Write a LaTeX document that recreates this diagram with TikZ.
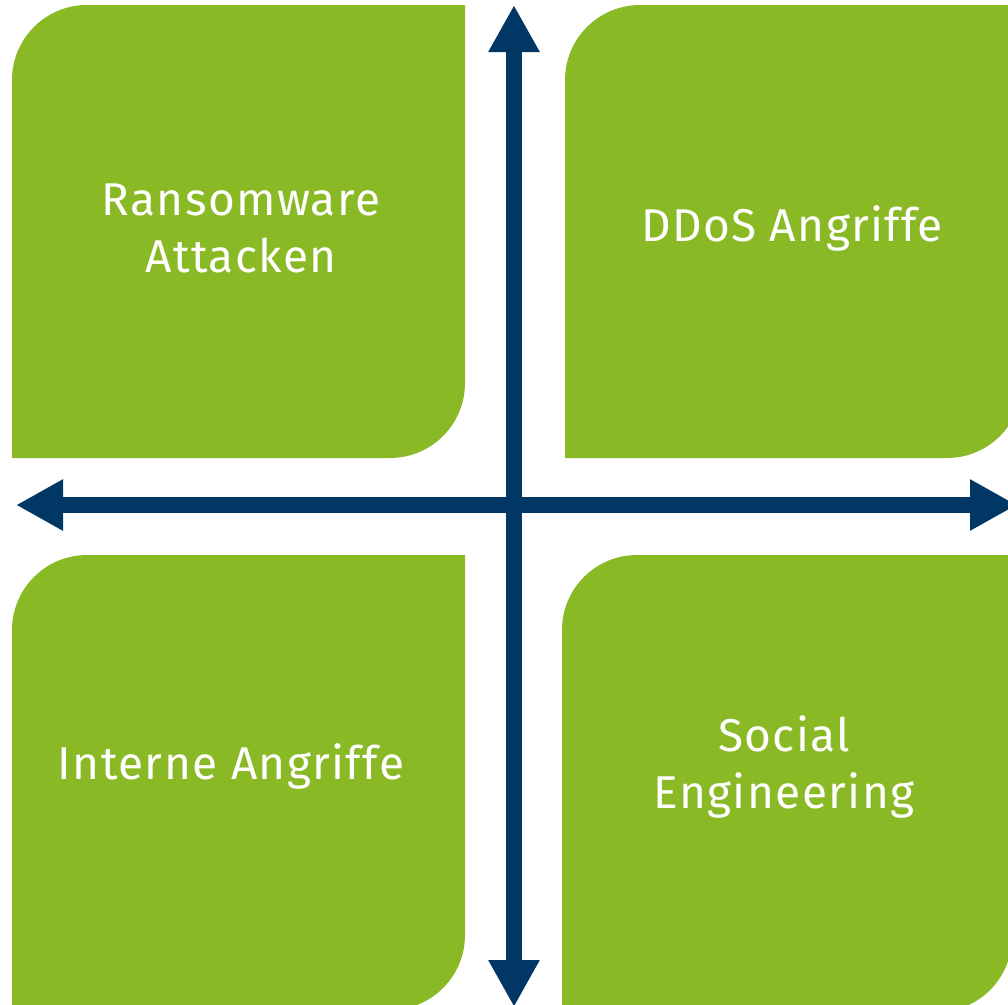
\documentclass[tikz,border=0pt]{standalone}
\usepackage{fontspec}
\setmainfont{Fira Sans}[LetterSpace=3]
\usetikzlibrary{arrows.meta}
\definecolor{leafgreen}{RGB}{138,185,38}
\definecolor{navyblue}{RGB}{0,55,100}
\tikzstyle{field} = [fill=leafgreen]
\tikzstyle{boxtext} = [text=white, align=center, inner sep=0pt,
	font=\fontsize{46}{57}\selectfont]
\tikzstyle{axisline} = [draw=navyblue, line width=16pt,
	{Triangle[length=47pt, width=48pt]}-{Triangle[length=47pt, width=48pt]}]

\begin{document}
\begin{tikzpicture}[x=1pt, y=-1pt]
	\useasboundingbox (0,0) rectangle (1008,1004);

	% set up fields (rounded top left and bottom right)
	\fill[field] (12,458) -- (12,80) arc[start angle=180, end angle=270, radius=75] -- (465,5)
		-- (465,383) arc[start angle=0, end angle=90, radius=75] -- cycle;
	\fill[field] (565,458) -- (565,80) arc[start angle=180, end angle=270, radius=75] -- (1022,5)
		-- (1022,383) arc[start angle=0, end angle=90, radius=75] -- cycle;
	\fill[field] (12,1010) -- (12,630) arc[start angle=180, end angle=270, radius=75] -- (465,555)
		-- (465,935) arc[start angle=0, end angle=90, radius=75] -- cycle;
	\fill[field] (562,1012) -- (562,630) arc[start angle=180, end angle=270, radius=75] -- (1012,555)
		-- (1012,937) arc[start angle=0, end angle=90, radius=75] -- cycle;

	% set up texts
	\node (ransom) [boxtext] at (241,228) {Ransomware\\Attacken};
	\node (ddos) [boxtext] at (792,228) {DDoS Angriffe};
	\node (intern) [boxtext] at (231,766) {Interne Angriffe};
	\node (social) [boxtext] at (784,767) {Social\\Engineering};

	% set up axes
	\coordinate (top) at (514,5);
	\coordinate (bottom) at (514,1007);
	\coordinate (left) at (16,505);
	\coordinate (right) at (1017,505);
	\draw [axisline] (bottom) -- (top);
	\draw [axisline] (left) -- (right);

\end{tikzpicture}
\end{document}
